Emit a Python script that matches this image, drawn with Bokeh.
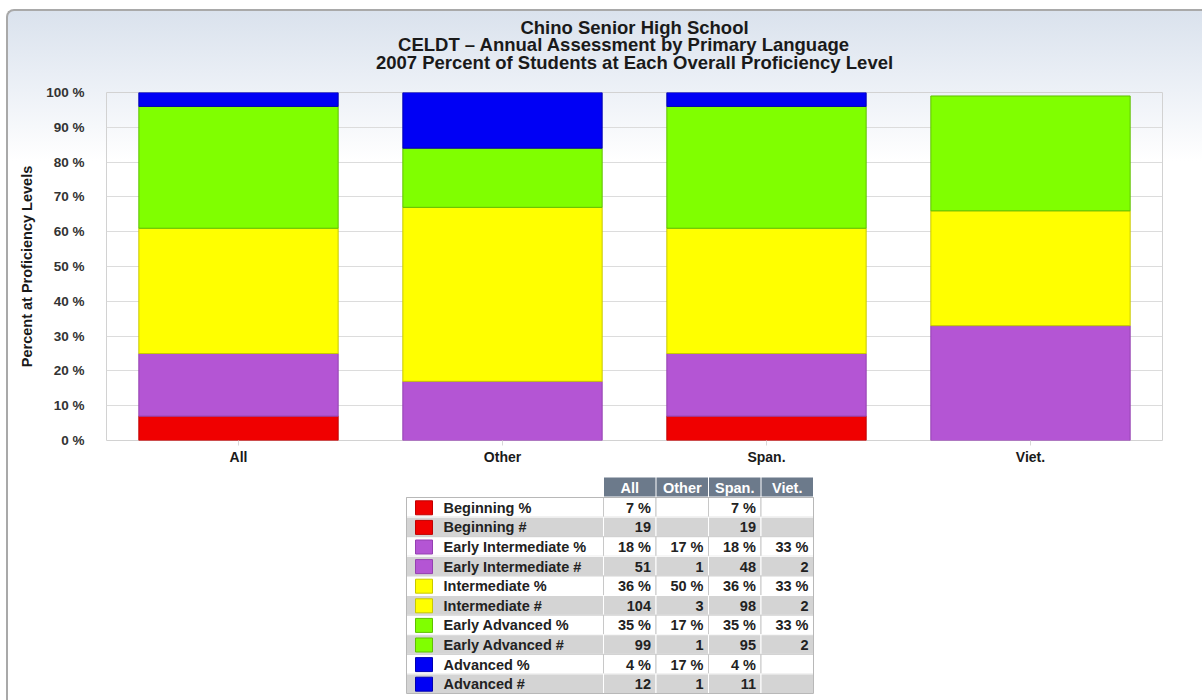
from bokeh.plotting import figure
from bokeh.layouts import column
from bokeh.models import (ColumnDataSource, FactorRange, Range1d, FixedTicker,
                          PrintfTickFormatter, Title)
from bokeh.embed import file_html
from bokeh.resources import INLINE
from bokeh.core.properties import value

# ---- data -------------------------------------------------------------
categories = ["All", "Other", "Span.", "Viet."]
levels = ["Beginning", "Early Intermediate", "Intermediate", "Early Advanced", "Advanced"]

beginning_pct = [7, None, 7, None]
beginning_n = [19, None, 19, None]
early_int_pct = [18, 17, 18, 33]
early_int_n = [51, 1, 48, 2]
intermediate_pct = [36, 50, 36, 33]
intermediate_n = [104, 3, 98, 2]
early_adv_pct = [35, 17, 35, 33]
early_adv_n = [99, 1, 95, 2]
advanced_pct = [4, 17, 4, None]
advanced_n = [12, 1, 11, None]

y_ticks = list(range(0, 101, 10))

title_lines = ["Chino Senior High School",
               "CELDT \u2013 Annual  Assessment  by  Primary  Language",
               "2007 Percent of Students at Each Overall Proficiency Level"]
y_title = "Percent at Proficiency Levels"

# ---- styling ----------------------------------------------------------
level_colors = ["#f00000", "#b455d4", "#ffff00", "#80ff00", "#0000f5"]
level_edges = ["#c00000", "#9440b0", "#c8c800", "#5fc000", "#0000b0"]
FONT = "Liberation Sans"
W = 1194
FRAME_L, FRAME_R = 98, 40          # side borders around the plot area

pct_series = [beginning_pct, early_int_pct, intermediate_pct, early_adv_pct, advanced_pct]
n_series = [beginning_n, early_int_n, intermediate_n, early_adv_n, advanced_n]

# ---- stacked bar chart ------------------------------------------------
stack_keys = [f"lvl{i}" for i in range(len(levels))]
edge_keys = [f"edge{i}" for i in range(len(levels))]
data = dict(cat=categories)
for k, e, s in zip(stack_keys, edge_keys, pct_series):
    data[k] = [v or 0 for v in s]
    data[e] = [1.0 if v else 0.0 for v in s]   # no outline on empty segments
src = ColumnDataSource(data)

chart = figure(x_range=FactorRange(*categories), y_range=Range1d(0, 100),
               width=W, height=459, output_backend="svg", toolbar_location=None,
               min_border_left=FRAME_L, min_border_right=FRAME_R, min_border_top=81,
               min_border_bottom=30, background_fill_alpha=0, border_fill_alpha=0,
               outline_line_color="#d2d2d2")

chart.vbar_stack(stack_keys, x="cat", width=0.755, source=src,
                 fill_color=level_colors, line_color=level_edges, line_width=1,
                 line_alpha=edge_keys)

# heading: a thin gap above the plot area, then three tightly stacked lines
# (titles added later sit further from the plot)
chart.add_layout(Title(text=" ", text_font_size="1px", standoff=16.5), "above")
title_standoffs = [0, -11, 0]
for line, so in reversed(list(zip(title_lines, title_standoffs))):
    chart.add_layout(Title(text=line, align="center", text_font=FONT,
                           text_font_size="18.5px", text_font_style="bold",
                           text_color="#1a1a1a", standoff=so), "above")

yax = chart.yaxis[0]
yax.ticker = FixedTicker(ticks=y_ticks)
yax.formatter = PrintfTickFormatter(format="%d %%")
yax.major_label_text_font = FONT
yax.major_label_text_font_size = "13.5px"
yax.major_label_text_font_style = "bold"
yax.major_label_text_color = "#333333"
yax.major_tick_line_color = None
yax.minor_tick_line_color = None
yax.axis_line_color = None
yax.major_label_standoff = 16
yax.axis_label = y_title
yax.axis_label_text_font = FONT
yax.axis_label_text_font_size = "14.5px"
yax.axis_label_text_font_style = "bold"
yax.axis_label_text_color = "#1a1a1a"
yax.axis_label_standoff = 8

xax = chart.xaxis[0]
xax.major_label_text_font = FONT
xax.major_label_text_font_size = "14px"
xax.major_label_text_font_style = "bold"
xax.major_label_text_color = "#1a1a1a"
xax.axis_line_color = None
xax.major_tick_line_color = "#d8d8d8"
xax.major_tick_in = 0
xax.major_tick_out = 5
xax.major_label_standoff = 3

chart.xgrid.grid_line_color = None
chart.ygrid.grid_line_color = "#dcdcdc"

# ---- data table under the chart ----------------------------------------
# the table's plot area lines up with the chart's, so its x range spans
# the same horizontal pixels as the chart's plot area
H_T = 230
table = figure(width=W, height=H_T, x_range=Range1d(FRAME_L, W - FRAME_R),
               y_range=Range1d(H_T, 0), output_backend="svg", toolbar_location=None,
               min_border=0, min_border_left=FRAME_L, min_border_right=FRAME_R,
               background_fill_alpha=0, border_fill_alpha=0, outline_line_color=None)
table.axis.visible = False
table.grid.visible = False

label_left, label_right = 398, 595
col_w = 52.5
head_top, head_bot = 7, 26
row_top, row_h = 27, 19.6
TFONT = "14.5px"

col_lefts = [label_right + i * col_w for i in range(len(categories))]
table.quad(left=[c + 0.5 for c in col_lefts], right=[c + col_w - 0.5 for c in col_lefts],
           top=head_top, bottom=head_bot, fill_color="#6c7a8b", line_color=None)
table.text(x=[c + col_w / 2 for c in col_lefts], y=(head_top + head_bot) / 2 + 0.5,
           text=categories, text_align="center", text_baseline="middle",
           text_font=value(FONT), text_font_size=TFONT, text_font_style="bold",
           text_color="white")

rows = []
for lvl, color, edge, pcts, ns in zip(levels, level_colors, level_edges, pct_series, n_series):
    rows.append((f"{lvl} %", color, edge, ["" if v is None else f"{v} %" for v in pcts], "white", "#c8c8c8"))
    rows.append((f"{lvl} #", color, edge, ["" if v is None else str(v) for v in ns], "#d4d4d4", "#ffffff"))

cell = dict(l=[], r=[], t=[], b=[], fill=[], line=[])
sw = dict(l=[], r=[], t=[], b=[], fill=[], line=[])
lab = dict(x=[], y=[], text=[])
val = dict(x=[], y=[], text=[])
for i, (name, color, edge, vals, fill, line) in enumerate(rows):
    t = row_top + i * row_h
    b = t + row_h
    mid = (t + b) / 2 + 0.5
    edges = [label_left] + col_lefts + [col_lefts[-1] + col_w]
    for l, r in zip(edges[:-1], edges[1:]):
        cell["l"].append(l); cell["r"].append(r); cell["t"].append(t); cell["b"].append(b)
        cell["fill"].append(fill); cell["line"].append(line)
    sw["l"].append(label_left + 9); sw["r"].append(label_left + 26)
    sw["t"].append(mid - 7); sw["b"].append(mid + 7)
    sw["fill"].append(color); sw["line"].append(edge)
    lab["x"].append(label_left + 37); lab["y"].append(mid); lab["text"].append(name)
    for c, v in zip(col_lefts, vals):
        val["x"].append(c + col_w - 5); val["y"].append(mid); val["text"].append(v)

table.quad(left="l", right="r", top="t", bottom="b", fill_color="fill", line_color="line",
           source=ColumnDataSource(cell))
table.quad(left=label_left, right=col_lefts[-1] + col_w, top=row_top,
           bottom=row_top + len(rows) * row_h, fill_color=None, line_color="#b8b8b8")
table.quad(left="l", right="r", top="t", bottom="b", fill_color="fill", line_color="line",
           source=ColumnDataSource(sw))
table.text(x="x", y="y", text="text", source=ColumnDataSource(lab), text_align="left",
           text_baseline="middle", text_font=value(FONT), text_font_size=TFONT,
           text_font_style="bold", text_color="#222222")
table.text(x="x", y="y", text="text", source=ColumnDataSource(val), text_align="right",
           text_baseline="middle", text_font=value(FONT), text_font_size=TFONT,
           text_font_style="bold", text_color="#222222")

page = column(chart, table, spacing=0, styles={
    "margin-left": "6px", "margin-top": "9px",
    "border-left": "2px solid #a9a9a9", "border-top": "2px solid #a9a9a9",
    "border-top-left-radius": "8px",
    "background": "linear-gradient(to bottom, #dae2ed 0px, #edf1f7 80px, #ffffff 150px)",
})

open("out.html", "w").write(file_html(page, INLINE))
